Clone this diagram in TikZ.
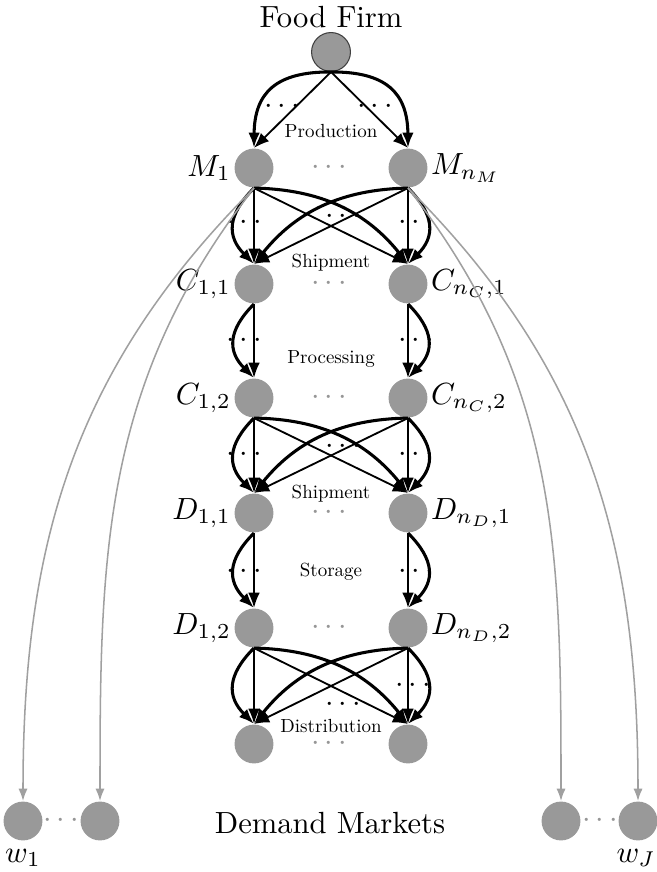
\documentclass[tikz,border=0pt]{standalone}
\usetikzlibrary{arrows.meta,positioning}
\definecolor{FscNode}{RGB}{153,153,153}
\definecolor{FscLink}{RGB}{160,160,160}
\definecolor{FscDots}{RGB}{150,150,150}
\newcommand{\stagename}[1]{\scalebox{0.62}{#1}}
\tikzset{
  fsc/node/.style={
    circle,
    fill=FscNode,
    minimum size=12.7pt,
    inner sep=0pt
  },
  fsc/firm/.style={fsc/node, draw=black!75, line width=0.35pt},
  fsc/name/.style={inner sep=0.8pt},
  fsc/title/.style={inner sep=0pt, align=center},
  fsc/stage/.style={inner sep=0pt},
  fsc/dots/.style={inner sep=0pt, text=black},
  fsc/graydots/.style={inner sep=0pt, text=FscDots},
  fsc/arrow/.style={-{Latex[length=5pt,width=3.8pt]}, line width=0.6pt, draw=black},
  fsc/bent/.style={-{Latex[length=5pt,width=3.8pt]}, line width=1pt, draw=black},
  fsc/demand/.style={-{Latex[length=4pt,width=3pt]}, line width=0.5pt, draw=FscLink}
}
\begin{document}
\begin{tikzpicture}[x=0.3267pt,y=0.3267pt]
  \useasboundingbox (0,0) rectangle (657,-872);

  % firm and the two columns of facilities
  \node[fsc/title] (firmname) at (331,-17) {Food Firm};
  \node[fsc/firm] (firm) at (331,-52) {};

  \node[fsc/node] (m1)  at (254,-168) {};
  \node[fsc/node] (mn)  at (408,-168) {};
  \node[fsc/node] (c11) at (254,-284) {};
  \node[fsc/node] (cn1) at (408,-284) {};
  \node[fsc/node] (c12) at (254,-398) {};
  \node[fsc/node] (cn2) at (408,-398) {};
  \node[fsc/node] (d11) at (254,-513) {};
  \node[fsc/node] (dn1) at (408,-513) {};
  \node[fsc/node] (d12) at (254,-628) {};
  \node[fsc/node] (dn2) at (408,-628) {};
  \node[fsc/node] (r1)  at (254,-744) {};
  \node[fsc/node] (rn)  at (408,-744) {};

  \node[fsc/name,left=0pt of m1]   {$M_1$};
  \node[fsc/name,right=0pt of mn]  {$M_{n_M}$};
  \node[fsc/name,left=0pt of c11]  {$C_{1,1}$};
  \node[fsc/name,right=0pt of cn1] {$C_{n_C,1}$};
  \node[fsc/name,left=0pt of c12]  {$C_{1,2}$};
  \node[fsc/name,right=0pt of cn2] {$C_{n_C,2}$};
  \node[fsc/name,left=0pt of d11]  {$D_{1,1}$};
  \node[fsc/name,right=0pt of dn1] {$D_{n_D,1}$};
  \node[fsc/name,left=0pt of d12]  {$D_{1,2}$};
  \node[fsc/name,right=0pt of dn2] {$D_{n_D,2}$};

  % demand markets
  \node[fsc/node] (w1)  at (23,-821) {};
  \node[fsc/node] (w2)  at (100,-821) {};
  \node[fsc/node] (wj1) at (561,-821) {};
  \node[fsc/node] (wj)  at (638,-821) {};
  \node[fsc/graydots] at (61,-821) {$\cdots$};
  \node[fsc/graydots] at (600,-821) {$\cdots$};
  \node[fsc/name] at (23,-858) {$w_1$};
  \node[fsc/name] at (636,-858) {$w_J$};
  \node[fsc/title] (markets) at (330,-823) {Demand Markets};

  % dots between the columns
  \foreach \y in {168,284,398,513,628,744}
    \node[fsc/graydots] at (329,-\y) {$\cdots$};

  % stage names
  \node[fsc/stage] at (331,-131) {\stagename{Production}};
  \node[fsc/stage] at (331,-263) {\stagename{Shipment}};
  \node[fsc/stage] at (331,-359) {\stagename{Processing}};
  \node[fsc/stage] at (331,-494) {\stagename{Shipment}};
  \node[fsc/stage] at (331,-572) {\stagename{Storage}};
  \node[fsc/stage] at (331,-726) {\stagename{Distribution}};

  % dots between parallel links
  \node[fsc/dots] at (282,-107) {$\cdots$};
  \node[fsc/dots] at (375,-107) {$\cdots$};
  \foreach \y in {223,341,455,572} {
    \node[fsc/dots] at (244,-\y) {$\cdots$};
    \node[fsc/dots] at (416,-\y) {$\cdots$};
  }
  \node[fsc/dots] at (413,-686) {$\cdots$};
  \node[fsc/dots] at (343,-217) {$\cdots$};
  \node[fsc/dots] at (343,-447) {$\cdots$};
  \node[fsc/dots] at (343,-705) {$\cdots$};

  % production
  \draw[fsc/arrow] (firm.south) -- (m1.north);
  \draw[fsc/bent] (firm.south) to[bend right=45,looseness=1.3] (m1.north);
  \draw[fsc/arrow] (firm.south) -- (mn.north);
  \draw[fsc/bent] (firm.south) to[bend left=45,looseness=1.3] (mn.north);

  % shipment and distribution (all pairs)
  \foreach \a/\b/\c/\d in {m1/mn/c11/cn1, c12/cn2/d11/dn1, d12/dn2/r1/rn} {
    \draw[fsc/arrow] (\a.south) -- (\c.north);
    \draw[fsc/bent] (\a.south) to[bend right=45,looseness=1.3] (\c.north);
    \draw[fsc/arrow] (\a.south) -- (\d.north);
    \draw[fsc/bent] (\a.south) to[bend left=25] (\d.north);
    \draw[fsc/arrow] (\b.south) -- (\d.north);
    \draw[fsc/bent] (\b.south) to[bend left=45,looseness=1.3] (\d.north);
    \draw[fsc/arrow] (\b.south) -- (\c.north);
    \draw[fsc/bent] (\b.south) to[bend right=25] (\c.north);
  }

  % processing and storage (same column)
  \foreach \a/\c in {c11/c12, d11/d12} {
    \draw[fsc/arrow] (\a.south) -- (\c.north);
    \draw[fsc/bent] (\a.south) to[bend right=45,looseness=1.3] (\c.north);
  }
  \foreach \b/\d in {cn1/cn2, dn1/dn2} {
    \draw[fsc/arrow] (\b.south) -- (\d.north);
    \draw[fsc/bent] (\b.south) to[bend left=45,looseness=1.3] (\d.north);
  }

  % direct links to demand markets
  \draw[fsc/demand] (m1.south) to[out=225,in=90] (w1.north);
  \draw[fsc/demand] (m1.south) to[out=232,in=90] (w2.north);
  \draw[fsc/demand] (mn.south) to[out=-52,in=90] (wj1.north);
  \draw[fsc/demand] (mn.south) to[out=-45,in=90] (wj.north);
\end{tikzpicture}
\end{document}
